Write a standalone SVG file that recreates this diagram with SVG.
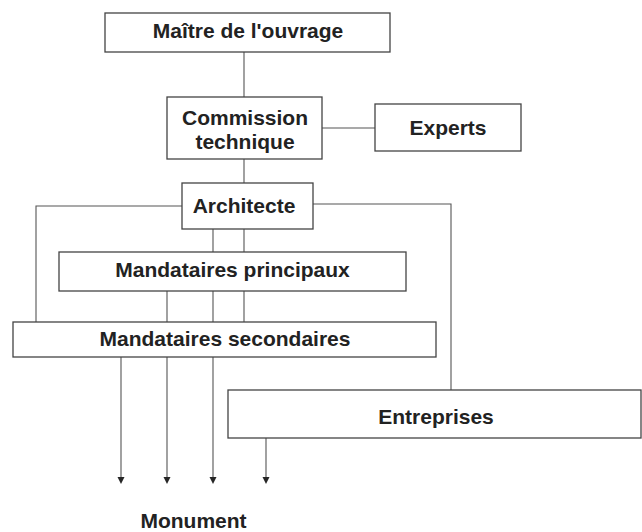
<svg xmlns="http://www.w3.org/2000/svg" width="642" height="532" viewBox="0 0 642 532">
<style>
.box{fill:#fff;stroke:#444;stroke-width:1.3}
.t{font-family:"Liberation Sans",Arial,sans-serif;font-weight:bold;font-size:21px;fill:#222;text-anchor:middle}
.c{fill:none;stroke:#555;stroke-width:1.1}
</style>
<defs>
<marker id="ah" markerUnits="userSpaceOnUse" markerWidth="8" markerHeight="8" viewBox="0 0 8 8" refX="4" refY="1" orient="auto">
<path d="M0,0 L8,4 L0,8 Z" fill="#262626"/>
</marker>
</defs>
<rect width="642" height="532" fill="#fff"/>
<g id="connectors">
<line class="c" x1="244" y1="52" x2="244" y2="97"/>
<line class="c" x1="322" y1="128" x2="375" y2="128"/>
<line class="c" x1="244" y1="159" x2="244" y2="183"/>
<polyline class="c" points="182,206 36,206 36,322"/>
<polyline class="c" points="313,204 451,204 451,390"/>
<line class="c" x1="213" y1="229" x2="213" y2="252"/>
<line class="c" x1="244" y1="229" x2="244" y2="252"/>
<line class="c" x1="167" y1="291" x2="167" y2="322"/>
<line class="c" x1="213" y1="291" x2="213" y2="322"/>
<line class="c" x1="244" y1="291" x2="244" y2="322"/>
<path class="c" d="M121,357 V478"/>
<path class="c" d="M167,357 V478"/>
<path class="c" d="M213,357 V478"/>
<path class="c" d="M266,438 V478"/>
<path d="M117.5,477 L124.5,477 L121,484 Z" fill="#262626"/>
<path d="M163.5,477 L170.5,477 L167,484 Z" fill="#262626"/>
<path d="M209.5,477 L216.5,477 L213,484 Z" fill="#262626"/>
<path d="M262.5,477 L269.5,477 L266,484 Z" fill="#262626"/>
</g>
<g id="maitre">
<rect class="box" x="105" y="13" width="285" height="39"/>
<text class="t" x="248" y="38">Maître de l'ouvrage</text>
</g>
<g id="commission">
<rect class="box" x="167" y="97" width="155" height="62"/>
<text class="t" x="245" y="125">Commission</text>
<text class="t" x="245" y="149">technique</text>
</g>
<g id="experts">
<rect class="box" x="375" y="104" width="146" height="47"/>
<text class="t" x="448" y="135">Experts</text>
</g>
<g id="architecte">
<rect class="box" x="182" y="183" width="131" height="46"/>
<text class="t" x="244" y="213">Architecte</text>
</g>
<g id="mand-principaux">
<rect class="box" x="59" y="252" width="347" height="39"/>
<text class="t" x="232.5" y="277">Mandataires principaux</text>
</g>
<g id="mand-secondaires">
<rect class="box" x="13" y="322" width="423" height="35"/>
<text class="t" x="225" y="346">Mandataires secondaires</text>
</g>
<g id="entreprises">
<rect class="box" x="228" y="390" width="413" height="48"/>
<text class="t" x="436" y="424">Entreprises</text>
</g>
<g id="monument">
<text class="t" x="193.5" y="528">Monument</text>
</g>
</svg>
